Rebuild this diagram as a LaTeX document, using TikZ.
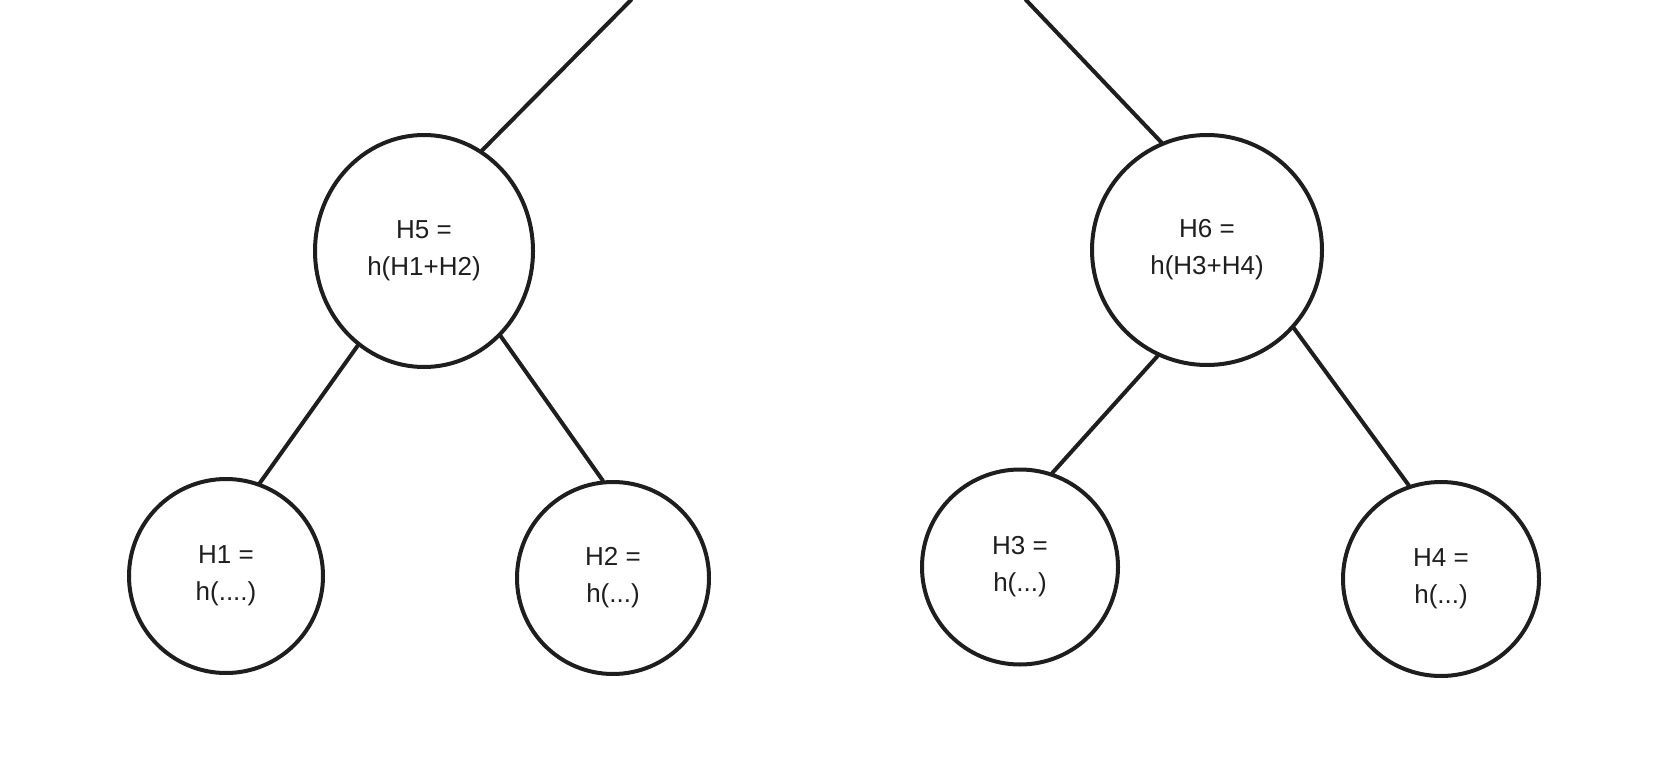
\documentclass[tikz,border=0pt]{standalone}
\usepackage{fontspec}
\setmainfont{Liberation Sans}
\usetikzlibrary{shapes.geometric}
\definecolor{ink}{HTML}{1E1E1E}
\tikzset{
  hnode/.style={draw=ink, ellipse, line width=4pt, inner sep=0pt, align=center, text=ink,
    font=\fontsize{26}{37}\selectfont},
  edge/.style={draw=ink, line width=4pt, line cap=round},
}
\begin{document}
\begin{tikzpicture}[x=1pt,y=-1pt]
\fill[white] (0,0) rectangle (1662,770);
\useasboundingbox (0,0) rectangle (1662,770);
\node[hnode, minimum width=218pt, minimum height=232pt] (h5) at (424,251) {H5 =\\h(H1+H2)};
\node[hnode, minimum width=230pt, minimum height=230pt] (h6) at (1207,250) {H6 =\\h(H3+H4)};
\node[hnode, minimum width=194pt, minimum height=194pt] (h1) at (226,576) {H1 =\\h(....)};
\node[hnode, minimum width=192pt, minimum height=192pt] (h2) at (613,578) {H2 =\\h(...)};
\node[hnode, minimum width=196pt, minimum height=195pt] (h3) at (1020,567) {H3 =\\h(...)};
\node[hnode, minimum width=196pt, minimum height=194pt] (h4) at (1441,579) {H4 =\\h(...)};
\coordinate (t5) at (631,0);
\coordinate (t6) at (1026,0);
\draw[edge] (t5) -- (h5.60.7);
\draw[edge] (t6) -- (h6.113.7);
\draw[edge] (h5.235.2) -- (h1.70);
\draw[edge] (h5.312) -- (h2.96.7);
\draw[edge] (h6.245) -- (h3.71.8);
\draw[edge] (h6.318) -- (h4.109.4);
\end{tikzpicture}
\end{document}
